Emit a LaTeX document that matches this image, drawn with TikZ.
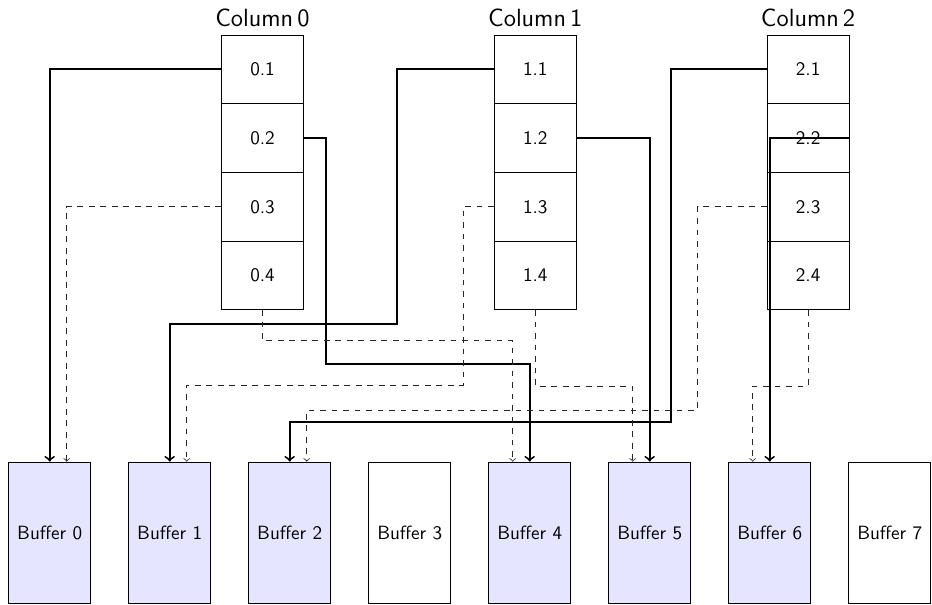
\documentclass[tikz,border=0pt]{standalone}
\usepackage{fontspec}
\usetikzlibrary{calc}
\tikzset{
  colhead/.style={font=\sffamily\fontsize{13}{15}\selectfont, anchor=base, inner sep=0pt},
  cell/.style={draw, minimum width=42.78pt, minimum height=35.84pt, inner sep=0pt, font=\sffamily},
  bufbox/.style={draw, minimum width=42.78pt, minimum height=73.7pt, inner sep=0pt, font=\sffamily},
  used/.style={bufbox, fill=blue!10},
  free/.style={bufbox, fill=white},
  primary/.style={line width=1pt, ->},
  backup/.style={dashed, ->, black!85},
}
\begin{document}
\begin{tikzpicture}[x=0.5217pt, y=-0.5217pt]
\useasboundingbox (0,0) rectangle (932,605);

% columns of four cells each
\foreach \c in {0,1,2} {
  \node[colhead] (h\c) at ({262.5+272.8*\c},26.7) {Column\,\c};
  \foreach \r in {1,...,4}
    \node[cell] (c\c\r) at ({262.5+272.8*\c},{35+68.7*(\r-0.5)}) {\c.\r};
}

% buffers
\foreach \b/\s in {0/used,1/used,2/used,3/free,4/used,5/used,6/used,7/free}
  \node[\s] (b\b) at ({49.7+120*\b},532.7) {Buffer \b};

% primary placements
\draw[primary] (c01.west) -| (b0.north);
\draw[primary] (c02.east) -| (326,364.3) -| (b4.north);
\draw[primary] (c11.west) -| (396.7,324) -| (b1.north);
\draw[primary] (c12.east) -| (b5.north);
\draw[primary] (c21.west) -| (671.3,422) -| (b2.north);
\draw[primary] (c22.east) -| (b6.north);

% secondary placements
\draw[backup] (c03.west) -| ($(b0.north)+(17,0)$);
\draw[backup] (c04.south) |- (512.7,340.7) -- ($(b4.north)+(-17,0)$);
\draw[backup] (c13.west) -| (463.3,385) -| ($(b1.north)+(17,0)$);
\draw[backup] (c14.south) |- (632.7,386) -- ($(b5.north)+(-17,0)$);
\draw[backup] (c23.west) -| (697.7,410) -| ($(b2.north)+(17,0)$);
\draw[backup] (c24.south) |- (752.7,386) -- ($(b6.north)+(-17,0)$);
\end{tikzpicture}
\end{document}
